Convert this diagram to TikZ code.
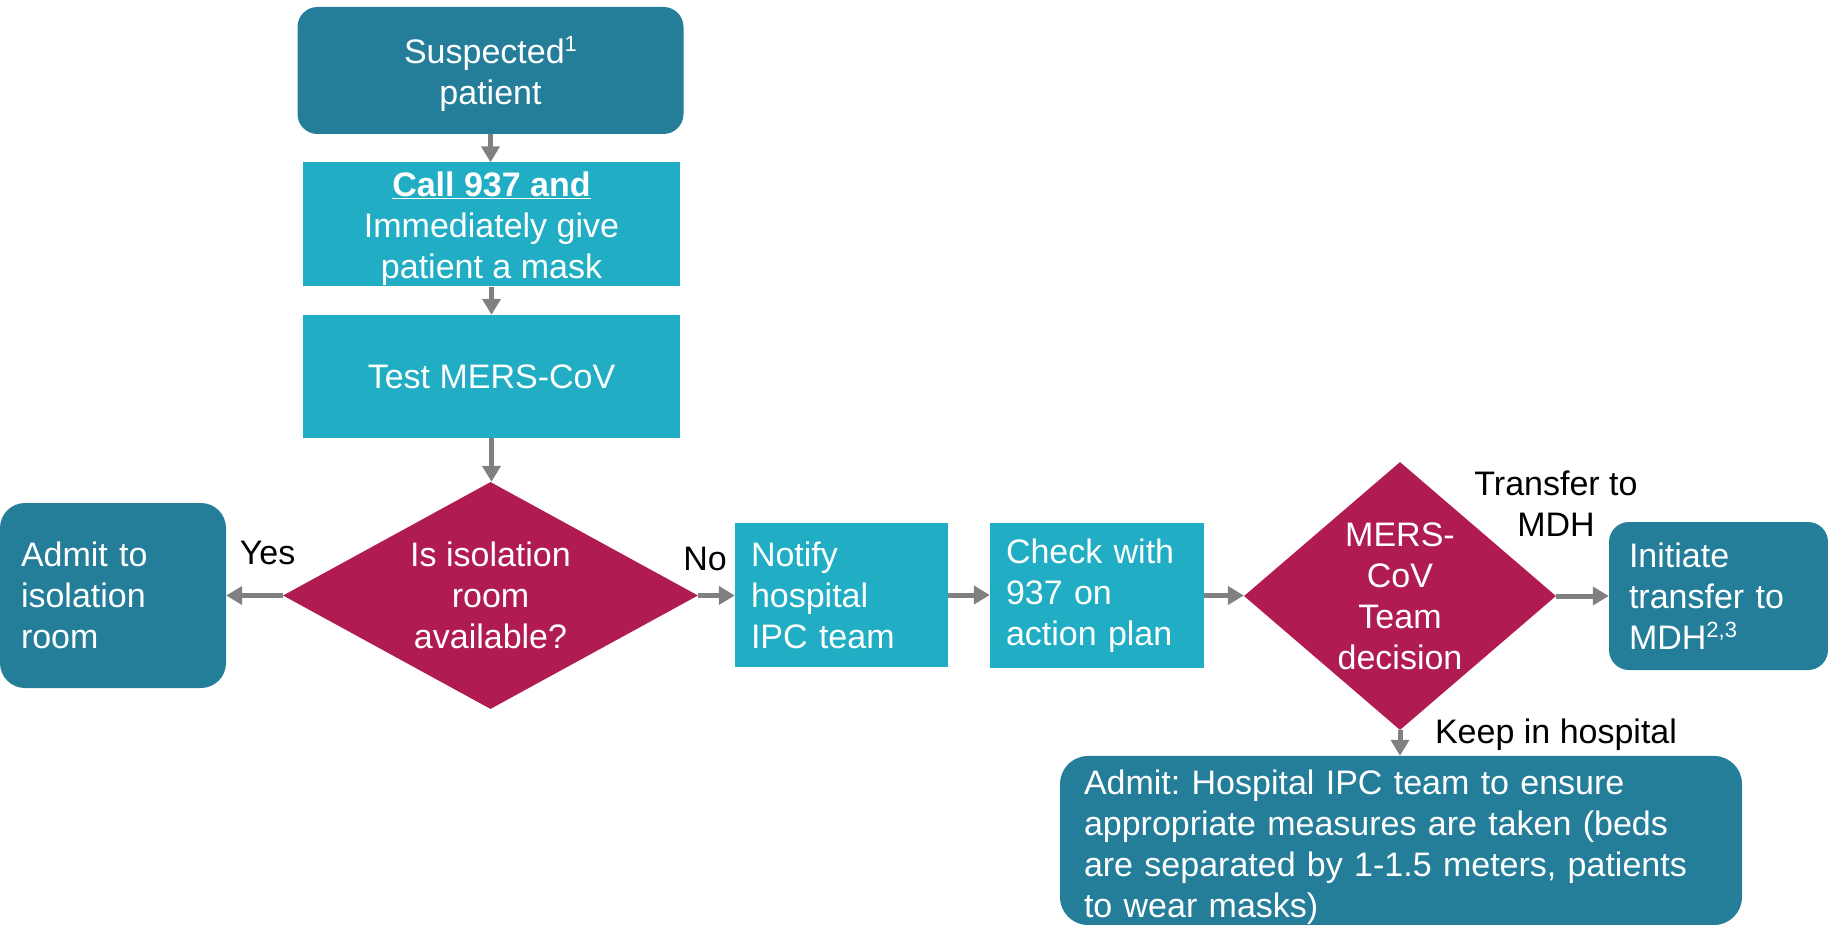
\documentclass[tikz,border=0pt]{standalone}
\usepackage{fontspec}
\setmainfont{Liberation Sans}
\usetikzlibrary{shapes.geometric,arrows.meta}
\definecolor{dteal}{HTML}{257E99}
\definecolor{cteal}{HTML}{21AEC4}
\definecolor{mag}{HTML}{B01C51}
\definecolor{agray}{HTML}{808080}
\newcommand{\supx}[1]{\smash{\raisebox{12pt}{\fontsize{22}{24}\selectfont #1}}}
\frenchspacing
\begin{document}
\begin{tikzpicture}[x=1pt,y=-1pt,
  every node/.style={font=\fontsize{34}{41}\selectfont\frenchspacing},
  darkbox/.style={fill=dteal, text=white, rounded corners=20pt, inner sep=0pt},
  lightbox/.style={fill=cteal, text=white, inner sep=0pt},
  decide/.style={diamond, fill=mag, inner sep=0pt},
  wtext/.style={text=white, align=center, inner sep=0pt},
  lbl/.style={text=black, inner sep=0pt},
  flow/.style={draw=agray, line width=5pt, -{Triangle[length=16pt,width=18pt]}},
]
\useasboundingbox (0,0) rectangle (1828,925);

\node[darkbox, minimum width=386pt, minimum height=127pt, align=center] (sus) at (490.5,70.5) {\rule{0pt}{35pt}Suspected\supx{1}\\patient};
\node[lightbox, minimum width=377pt, minimum height=124pt, align=center] (call) at (491.5,224.5) {\rule{0pt}{33pt}\underline{\textbf{Call 937 and}}\\Immediately give\\patient a mask};
\node[lightbox, minimum width=377pt, minimum height=123pt] (test) at (491.5,376.5) {Test MERS-CoV};

\node[decide, minimum width=415pt, minimum height=227pt] (d1) at (490.5,595.5) {};
\node[wtext] (d1t) at (d1.center) {Is isolation\\room\\available?};

\node[darkbox, rounded corners=25pt, minimum width=226pt, minimum height=185pt, inner xsep=21pt, text width=184pt, align=left] (adm) at (113,595.5) {Admit to\\isolation\\room};

\node[lightbox, minimum width=213pt, minimum height=144pt, inner xsep=16pt, text width=181pt, align=left] (notify) at (841.5,595) {Notify\\hospital\\IPC team};
\node[lightbox, minimum width=214pt, minimum height=145pt, inner xsep=16pt, text width=182pt, align=left] (check) at (1097,595.5) {Check with\\937 on\\action plan};

\node[decide, minimum width=312pt, minimum height=268pt] (d2) at (1400,596) {};
\node[wtext] (d2t) at (d2.center) {MERS-\\CoV\\Team\\decision};

\node[darkbox, minimum width=219pt, minimum height=148pt, inner xsep=20pt, text width=179pt, align=left] (init) at (1718.5,596) {Initiate\\transfer to\\MDH\supx{2,3}};

\node[darkbox, rounded corners=28pt, minimum width=682pt, minimum height=163pt, inner xsep=24pt, text width=634pt, align=left] (bot) at (1401,840.5) {\rule{0pt}{39pt}Admit: Hospital IPC team to ensure\\appropriate measures are taken (beds\\are separated by 1-1.5 meters, patients\\to wear masks)};

\draw[flow] (sus.south) -- (sus.south |- call.north);
\draw[flow] (call.south) -- (test.north);
\draw[flow] (test.south) -- (test.south |- d1.north);
\draw[flow] (d1.west) -- (adm.east |- d1.west);
\draw[flow] (d1.east) -- (notify.west |- d1.east);
\draw[flow] (notify.east) -- (check.west |- notify.east);
\draw[flow] (check.east) -- (d2.west |- check.east);
\draw[flow] (d2.east) -- (init.west |- d2.east);
\draw[flow] (d2.south) -- (d2.south |- bot.north);

\node[lbl, anchor=base] (yes) at (267.5,564) {Yes};
\node[lbl, anchor=base] (no) at (705,570) {No};
\node[lbl, align=center] (tr) at (1556,504) {Transfer to\\MDH};
\node[lbl, anchor=base] (keep) at (1556,743) {Keep in hospital};
\end{tikzpicture}
\end{document}
